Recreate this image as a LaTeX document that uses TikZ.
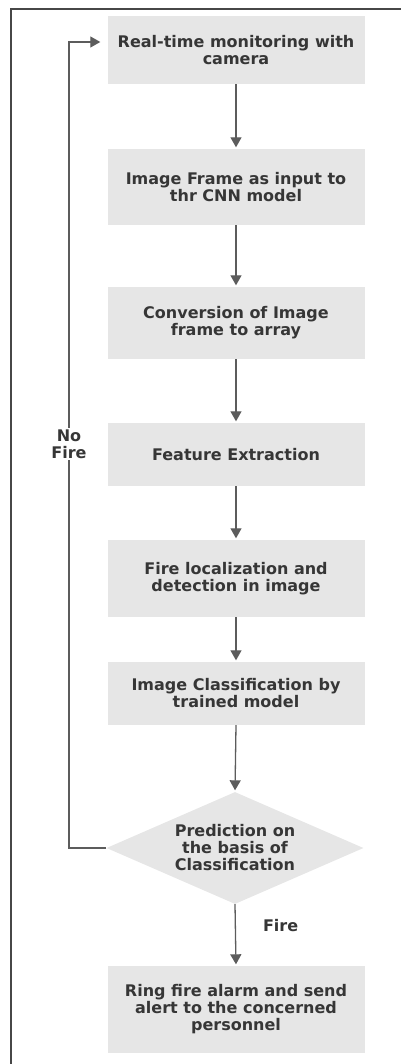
\documentclass[tikz,border=0pt]{standalone}
\usepackage{fontspec}
\setmainfont{DejaVu Sans}
\usetikzlibrary{arrows.meta,shapes.geometric}
\definecolor{boxfill}{HTML}{E6E6E6}
\definecolor{linegray}{HTML}{5C5C5C}
\definecolor{textgray}{HTML}{363636}
\definecolor{framegray}{HTML}{474747}
\tikzset{
  procbox/.style={fill=boxfill, draw=none, minimum width=257pt, align=center,
    font=\fontsize{16}{17}\selectfont\bfseries, text=textgray, inner sep=0pt},
  decbox/.style={diamond, fill=boxfill, draw=none, align=center, aspect=2.29,
    font=\fontsize{16}{17}\selectfont\bfseries, text=textgray, inner sep=0pt,
    minimum width=257pt, minimum height=112pt},
  flow/.style={draw=linegray, line width=1.3pt, -{Triangle[width=11pt,length=10pt]}, shorten >=1.5pt},
  lbl/.style={font=\fontsize{16}{17}\selectfont\bfseries, text=textgray, align=center, inner sep=1pt}
}
\begin{document}
\begin{tikzpicture}[x=1pt,y=1pt]
\useasboundingbox (0,0) rectangle (401,-1064);
% frame
\coordinate (fr) at (401,-9);
\coordinate (fc) at (11,-9);
\coordinate (fb) at (11,-1064);
\draw[draw=framegray, line width=2pt] (fr) -- (fc) -- (fb);
% nodes
\node[procbox, minimum height=68pt] (b1) at (236,-50) {Real-time monitoring with\\camera};
\node[procbox, minimum height=76pt] (b2) at (236,-187) {Image Frame as input to\\thr CNN model};
\node[procbox, minimum height=72pt] (b3) at (236,-323) {Conversion of Image\\frame to array};
\node[procbox, minimum height=63pt] (b4) at (236,-454.5) {Feature Extraction};
\node[procbox, minimum height=77pt] (b5) at (236,-578.5) {Fire localization and\\detection in image};
\node[procbox, minimum height=63pt] (b6) at (236,-693.5) {Image Classification by\\trained model};
\node[decbox] (d) at (235,-848) {Prediction on\\the basis of\\Classification};
\node[procbox, minimum height=87pt] (b7) at (236,-1009.5) {Ring fire alarm and send\\alert to the concerned\\personnel};
% connectors
\draw[flow] (b1) -- (b2);
\draw[flow] (b2) -- (b3);
\draw[flow] (b3) -- (b4);
\draw[flow] (b4) -- (b5);
\draw[flow] (b5) -- (b6);
\draw[flow] (b6.south) -- (d.north);
\draw[flow] (d.south) -- node[lbl, right=26pt, pos=0.35] (fire) {Fire} (b7.north);
% loop back
\coordinate (lb) at (69,-848);
\coordinate (lt) at (69,-42);
\coordinate (le) at ([yshift=8pt,xshift=-7pt]b1.west);
\draw[flow, shorten >=0pt] (d.west) -- (lb) -- (lt) -- (le);
\node[lbl, fill=white, inner sep=2pt] (nofire) at (69,-444) {No\\Fire};
\end{tikzpicture}
\end{document}
